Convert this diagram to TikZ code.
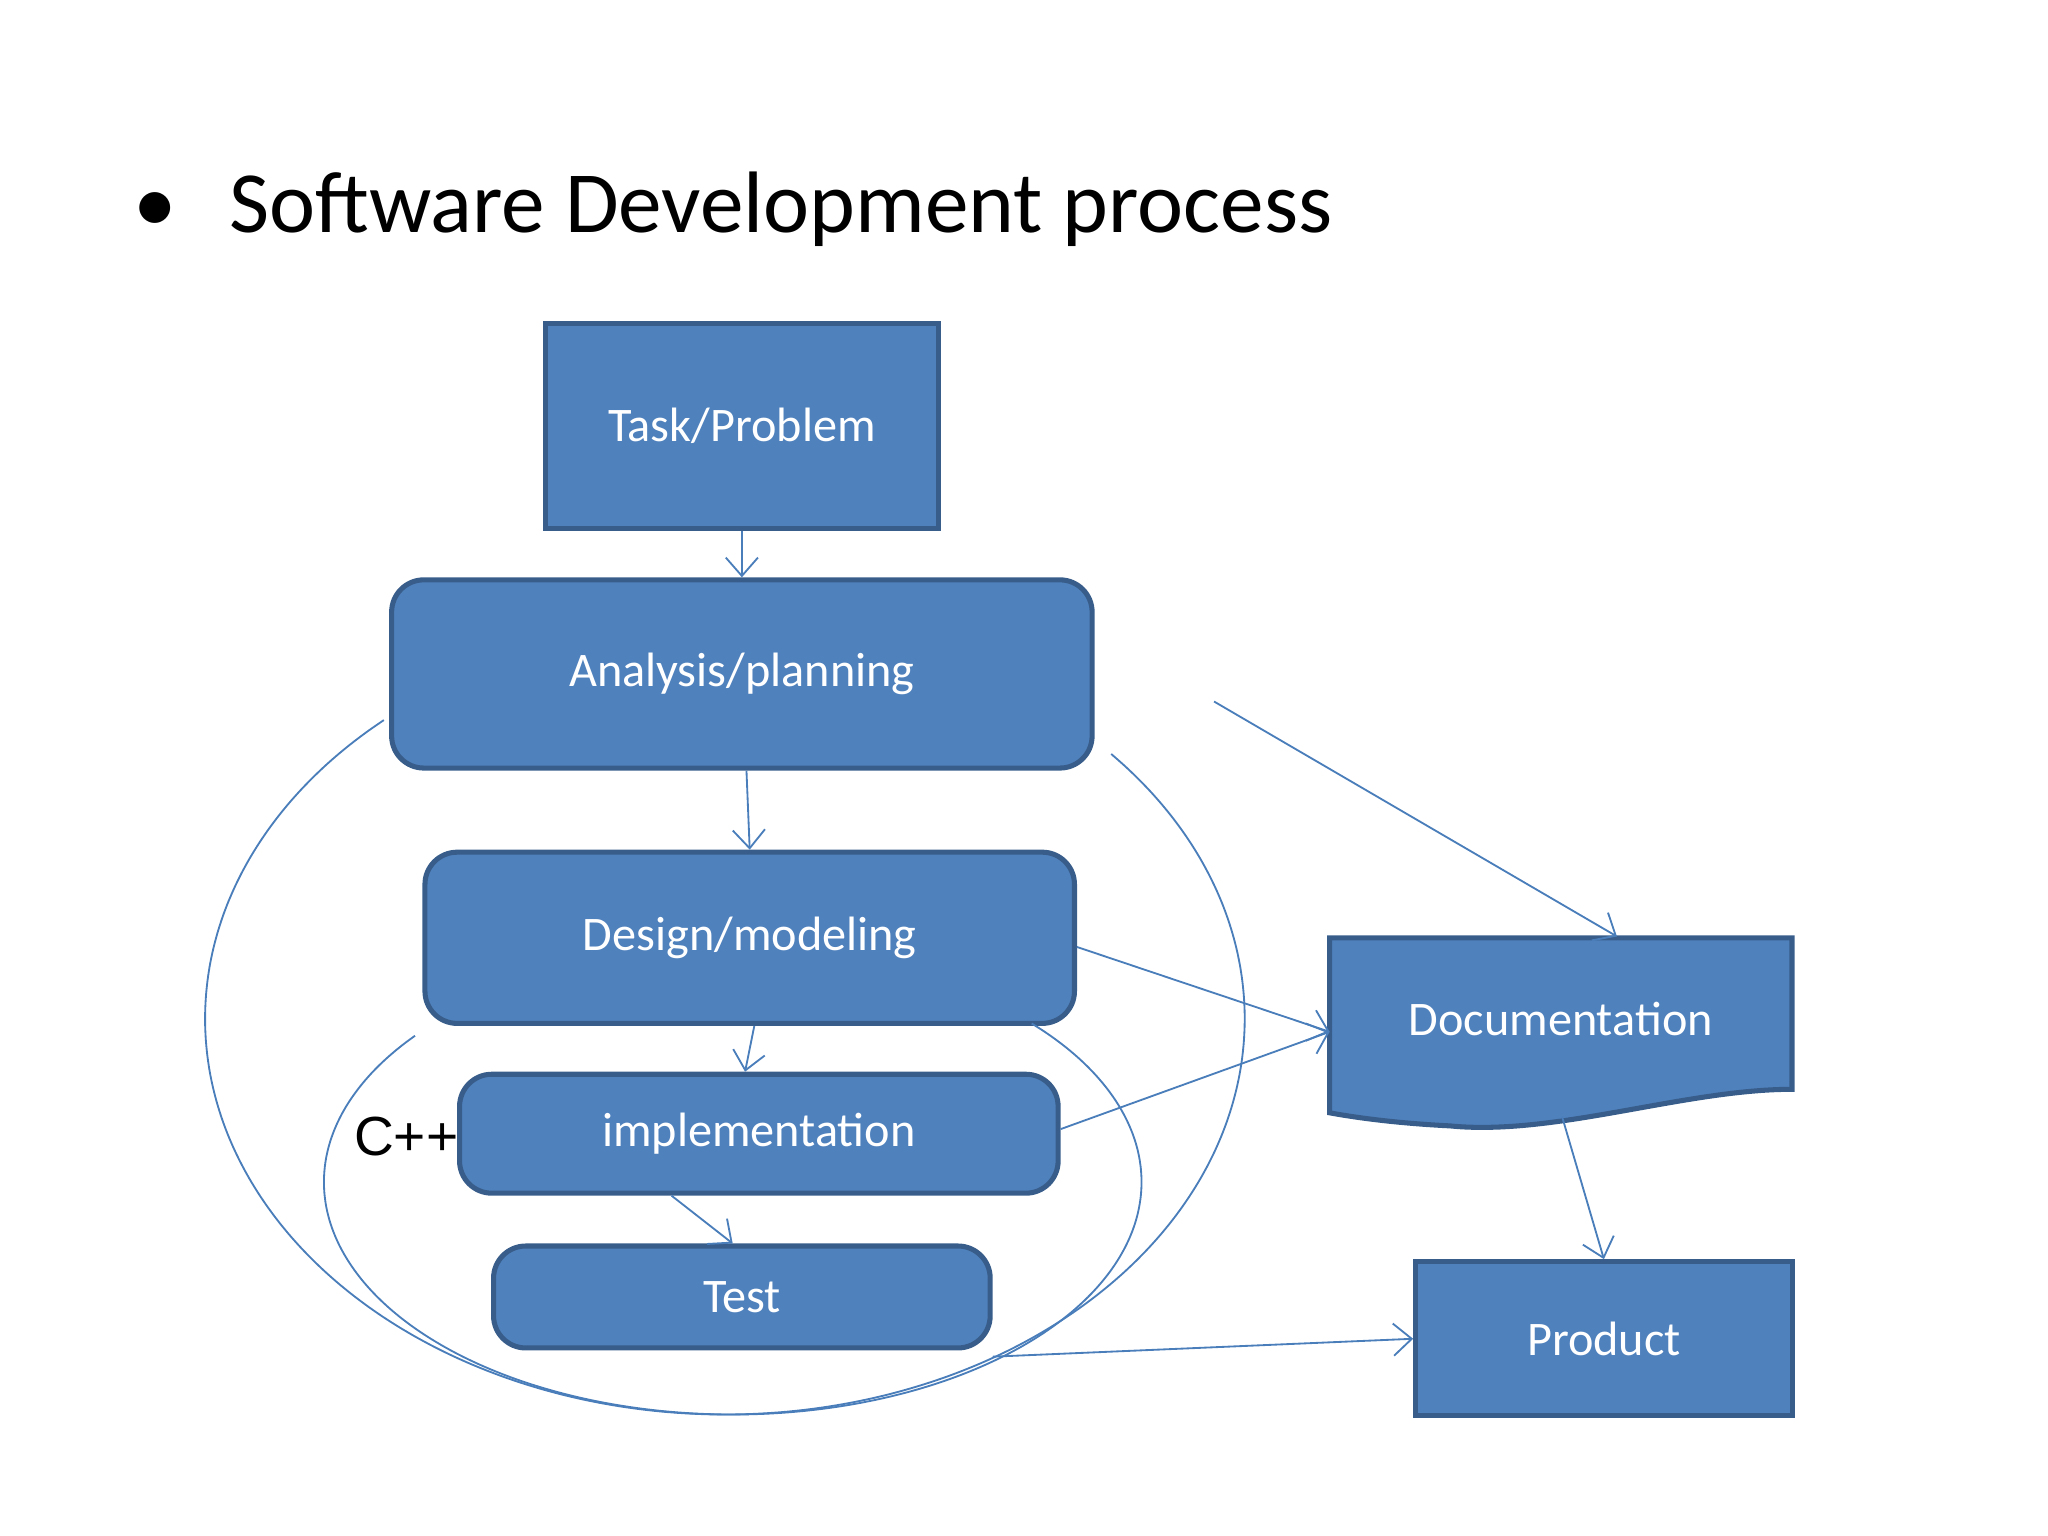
\documentclass[tikz,border=0pt]{standalone}
\usepackage{fontspec}
\setmainfont{Carlito}
\newfontfamily\arialf{Liberation Sans}
\usetikzlibrary{arrows.meta}
\definecolor{boxfill}{HTML}{4F81BD}
\definecolor{boxline}{HTML}{385D8A}
\definecolor{conn}{HTML}{4A7EBB}
\begin{document}
\begin{tikzpicture}[x=0.01cm,y=-0.01cm,
  box/.style={draw=boxline,line width=1.1pt,fill=boxfill,text=white,font=\fontsize{10.5}{12}\selectfont},
  rbox/.style={box,rounded corners=7pt},
  conn/.style={draw=conn,line width=0.4pt,-{Straight Barb[length=4pt,width=7pt]}},
  loop/.style={draw=conn,line width=0.4pt}]
\useasboundingbox (0,0) rectangle (1568,1176);
\node[anchor=west,font=\fontsize{19}{22}\selectfont] (title) at (90,160) {\textbullet\hspace{0.6em}Software Development process};
\node[box,minimum width=3.01cm,minimum height=1.57cm] (task) at (568,326) {Task/Problem};
\node[rbox,minimum width=5.36cm,minimum height=1.44cm] (ana) at (568,516) {Analysis/planning};
\node[rbox,minimum width=4.97cm,minimum height=1.31cm] (des) at (574,718) {Design/modeling};
\node[rbox,minimum width=4.58cm,minimum height=0.91cm] (imp) at (581,868) {implementation};
\node[rbox,minimum width=3.80cm,minimum height=0.78cm] (test) at (568,993) {Test};
\node[box,minimum width=2.88cm,minimum height=1.18cm] (prod) at (1228,1025) {Product};
% documentation shape
\path[box] (1018,718) -- (1372,718) -- (1372,834) .. controls (1290,834) and (1190,870) .. (1110,862) .. controls (1070,860) and (1040,856) .. (1018,852) -- cycle;
\node[text=white,font=\fontsize{10.5}{12}\selectfont] (doc) at (1195,780) {Documentation};
\coordinate (docl) at (1018,790);
\coordinate (doct) at (1238,717);
\coordinate (docb) at (1196,855);
\node[font=\arialf\fontsize{12}{14}\selectfont] (cpp) at (311,870) {C++};
% loops
\draw[loop] plot[domain=131:402,samples=120,smooth] ({555+398*cos(\x)},{780-303*sin(\x)});
\draw[loop] plot[domain=141:403,samples=120,smooth] ({561+313*cos(\x)},{905-178*sin(\x)});
% arrows
\draw[conn] (task.south) -- (ana.north);
\draw[conn] ([xshift=1]ana.south) -- (des.north);
\draw[conn] ([xshift=1]des.south) -- ([xshift=-3]imp.north);
\draw[conn] ([xshift=-19]imp.south) -- ([xshift=-2]test.north);
\draw[conn] ([xshift=26,yshift=-6]ana.east) -- (doct);
\draw[conn] ([yshift=-2]des.east) -- (docl);
\draw[conn] ([yshift=1]imp.east) -- (docl);
\draw[conn] (docb) -- (prod.north);
\draw[conn] ([yshift=-13]test.east) -- (prod.west);
\end{tikzpicture}
\end{document}
